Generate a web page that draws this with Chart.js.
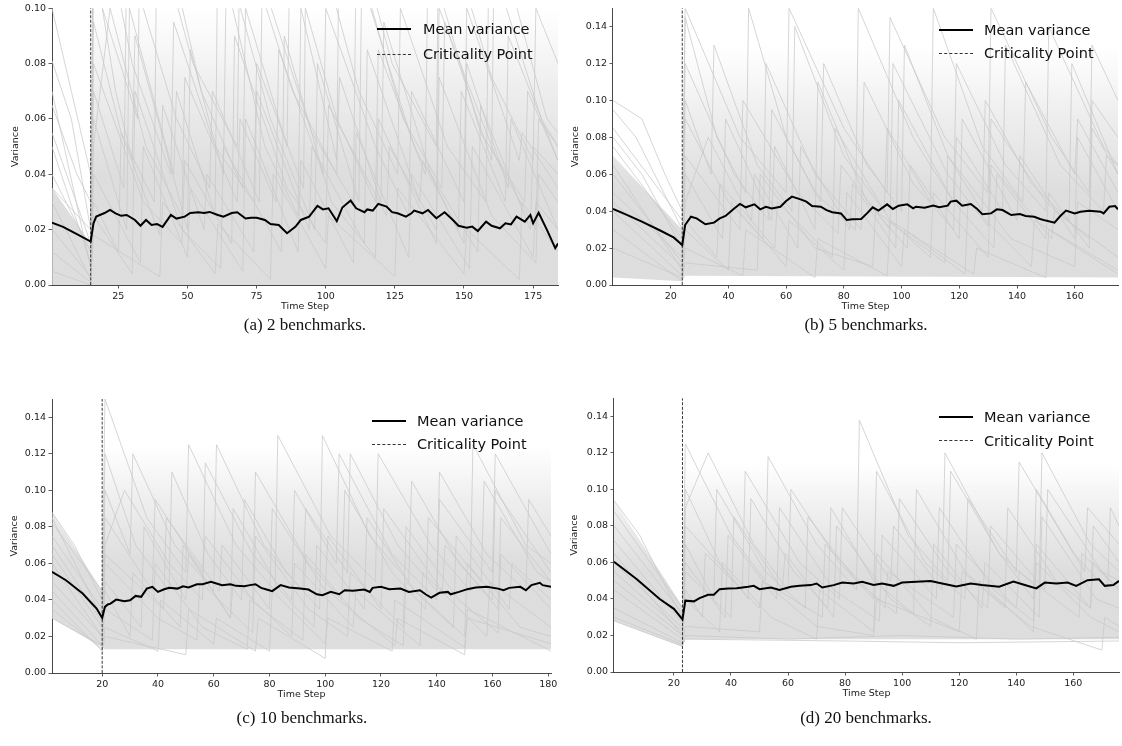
<!DOCTYPE html>
<html>
<head>
<meta charset="utf-8">
<script src="https://cdn.jsdelivr.net/npm/chart.js@4.4.1/dist/chart.umd.min.js"></script>
<style>
  body { margin: 0; background: #fff; }
  #page { position: relative; width: 1122px; height: 746px; overflow: hidden; }
  canvas { position: absolute; }
  .cap { position: absolute; font-family: "Liberation Serif", serif; font-size: 17px; color: #111; transform: translate(-50%, -50%); white-space: nowrap; }
  .leg { position: absolute; font-family: "DejaVu Sans", sans-serif; font-size: 14.5px; color: #111; white-space: nowrap; line-height: 1; transform: translateY(-50%); }
  .legline { position: absolute; height: 0; }
</style>
</head>
<body>
<div id="page">
  <canvas id="chartA"></canvas>
  <canvas id="chartB"></canvas>
  <canvas id="chartC"></canvas>
  <canvas id="chartD"></canvas>
</div>
<script>
// ---- data ----
const captions = ['(a) 2 benchmarks.', '(b) 5 benchmarks.', '(c) 10 benchmarks.', '(d) 20 benchmarks.'];
const legendLabels = ['Mean variance', 'Criticality Point'];

const xTicksA = [25, 50, 75, 100, 125, 150, 175];
const xTicksB = [20, 40, 60, 80, 100, 120, 140, 160];
const xTicksC = [20, 40, 60, 80, 100, 120, 140, 160, 180];
const xTicksD = [20, 40, 60, 80, 100, 120, 140, 160];
const yTicksA = [0, 0.02, 0.04, 0.06, 0.08, 0.10];
const yTicksB = [0, 0.02, 0.04, 0.06, 0.08, 0.10, 0.12, 0.14];

const critA = 15, critB = 24, critC = 20, critD = 23;

const meanA = [[1,0.0225],[5,0.021],[10,0.0184],[15,0.0157],[16,0.0223],[17,0.0247],[20,0.026],[22,0.0271],[24,0.0259],[26,0.025],[28,0.0253],[31,0.0235],[33,0.0214],[35,0.0235],[37,0.0217],[39,0.022],[41,0.021],[44,0.0253],[46,0.024],[49,0.0247],[51,0.026],[54,0.0263],[56,0.026],[58,0.0264],[61,0.0253],[63,0.0247],[66,0.026],[68,0.0263],[71,0.024],[73,0.0243],[75,0.0243],[78,0.0235],[80,0.022],[83,0.0217],[86,0.0187],[89,0.021],[91,0.0235],[94,0.0247],[97,0.0286],[99,0.0273],[101,0.0277],[104,0.0231],[106,0.028],[109,0.0305],[111,0.0277],[114,0.0263],[115,0.0273],[117,0.0269],[119,0.0293],[122,0.0283],[124,0.0263],[126,0.0259],[129,0.0247],[131,0.0259],[132,0.0269],[135,0.0259],[137,0.0271],[140,0.0241],[143,0.0263],[146,0.0235],[148,0.0214],[151,0.0207],[153,0.0211],[155,0.0195],[158,0.0229],[160,0.0214],[163,0.0205],[165,0.0223],[167,0.0219],[169,0.0247],[172,0.0229],[174,0.0253],[175,0.0223],[177,0.0261],[180,0.0199],[183,0.0133],[184,0.015]];
const meanB = [[0,0.0412],[5,0.0379],[10,0.0343],[16,0.0298],[21,0.0258],[24,0.0217],[25,0.0325],[27,0.037],[29,0.0361],[32,0.0329],[35,0.0338],[37,0.0361],[39,0.0374],[42,0.0415],[44,0.0439],[46,0.0421],[49,0.0437],[51,0.041],[53,0.0424],[55,0.0415],[58,0.0424],[60,0.0455],[62,0.0479],[65,0.0464],[67,0.0452],[69,0.0428],[72,0.0424],[74,0.0406],[76,0.0394],[79,0.0388],[81,0.0352],[83,0.0356],[86,0.0358],[88,0.0388],[90,0.0421],[92,0.0403],[95,0.0437],[97,0.0412],[99,0.043],[102,0.0437],[104,0.0415],[105,0.0424],[108,0.0419],[111,0.043],[113,0.0421],[116,0.043],[117,0.0452],[119,0.0457],[121,0.043],[124,0.0439],[126,0.0415],[128,0.0383],[131,0.0388],[133,0.041],[135,0.0406],[138,0.0379],[141,0.0385],[143,0.0374],[146,0.037],[148,0.0358],[150,0.0349],[153,0.0338],[155,0.0374],[157,0.0403],[160,0.0388],[162,0.0397],[165,0.0403],[169,0.0397],[170,0.0388],[172,0.0424],[174,0.0428],[175,0.041]];
const meanC = [[2,0.0554],[7,0.0508],[13,0.0435],[18,0.0353],[20,0.0302],[21,0.0362],[22,0.0375],[23,0.038],[25,0.0402],[28,0.0393],[30,0.0398],[32,0.0422],[34,0.0417],[36,0.0462],[38,0.0472],[40,0.0444],[42,0.0457],[44,0.0466],[47,0.0462],[49,0.0475],[51,0.0468],[54,0.0486],[56,0.0486],[59,0.0499],[61,0.049],[63,0.0481],[66,0.0486],[68,0.0477],[71,0.0475],[73,0.0481],[75,0.0486],[77,0.0466],[79,0.0457],[81,0.0448],[84,0.0481],[87,0.0468],[91,0.0462],[94,0.0457],[97,0.0431],[99,0.0426],[102,0.0444],[105,0.0431],[107,0.0453],[110,0.045],[114,0.0457],[116,0.0444],[117,0.0466],[120,0.0472],[123,0.0459],[127,0.0462],[130,0.0444],[134,0.0453],[136,0.0431],[138,0.0413],[141,0.0439],[144,0.0444],[145,0.0431],[148,0.0444],[151,0.0459],[154,0.0468],[158,0.0472],[162,0.0462],[164,0.0453],[166,0.0466],[170,0.0472],[172,0.0453],[174,0.0481],[177,0.0494],[178,0.0481],[181,0.0472]];
const meanD = [[-1,0.0604],[7,0.0508],[15,0.04],[20,0.0346],[23,0.0288],[24,0.0391],[27,0.0387],[29,0.0405],[32,0.0423],[34,0.0423],[36,0.0454],[39,0.0458],[42,0.0459],[46,0.0467],[48,0.0472],[50,0.0454],[54,0.0463],[57,0.045],[61,0.0467],[64,0.0472],[68,0.0476],[70,0.0485],[72,0.0463],[76,0.0476],[79,0.049],[83,0.0485],[86,0.0494],[90,0.0477],[93,0.0485],[97,0.0472],[100,0.049],[105,0.0494],[110,0.0499],[114,0.0485],[119,0.0468],[124,0.0485],[128,0.0476],[134,0.0467],[139,0.0495],[143,0.0477],[147,0.0458],[150,0.049],[154,0.0485],[158,0.049],[161,0.0472],[165,0.0503],[169,0.0508],[171,0.0472],[174,0.0476],[176,0.0499]];

// spread of the individual runs: lower edge, upper edge, level where the spread stops being dense, level where it fades out
const bandLowA = [[1,0],[184,0]];
const bandTopA = [[1,0.035],[15,0.015],[16,0.1],[184,0.1]];
const denseA = 0.04, fadeA = 0.10;
const bandLowB = [[0,0.004],[24,0.002],[25,0.005],[175,0.004]];
const bandTopB = [[0,0.07],[24,0.03],[25,0.13],[175,0.13]];
const denseB = 0.05, fadeB = 0.13;
const bandLowC = [[2,0.03],[20,0.014],[21,0.013],[181,0.013]];
const bandTopC = [[2,0.088],[20,0.045],[21,0.125],[181,0.125]];
const denseC = 0.06, fadeC = 0.125;
const bandLowD = [[-1,0.028],[23,0.014],[24,0.018],[176,0.018]];
const bandTopD = [[-1,0.094],[23,0.036],[24,0.115],[176,0.115]];
const denseD = 0.055, fadeD = 0.115;

// a sample of individual runs (grey)
const runsA = [
  [[1,0.081],[8,0.06],[15,0.02],[16,0.12],[24,0.07],[30,0.045],[31,0.09],[42,0.05],[50,0.02],[51,0.085],[63,0.04],[64,0.11],[78,0.05],[90,0.025],[91,0.1],[104,0.045],[105,0.075],[120,0.03],[121,0.095],[138,0.04],[150,0.015],[151,0.08],[166,0.035],[167,0.06],[184,0.02]],
  [[1,0.05],[15,0.008],[16,0.06],[28,0.02],[29,0.1],[45,0.04],[46,0.07],[60,0.025],[61,0.13],[80,0.06],[96,0.02],[97,0.08],[112,0.03],[113,0.11],[132,0.05],[148,0.02],[149,0.07],[165,0.03],[166,0.09],[184,0.045]],
  [[1,0.03],[15,0.002],[16,0.04],[33,0.008],[34,0.05],[50,0.01],[51,0.035],[70,0.005],[71,0.06],[90,0.012],[91,0.045],[110,0.008],[111,0.055],[130,0.01],[131,0.04],[152,0.006],[153,0.05],[175,0.01],[176,0.03],[184,0.02]],
  [[1,0.065],[10,0.04],[15,0.03],[16,0.095],[26,0.055],[38,0.03],[39,0.14],[55,0.07],[70,0.035],[71,0.1],[86,0.05],[87,0.12],[104,0.06],[118,0.03],[119,0.085],[136,0.04],[137,0.12],[156,0.055],[172,0.03],[173,0.07],[184,0.045]],
  [[1,0.012],[15,0.001],[16,0.025],[30,0.004],[31,0.07],[48,0.02],[62,0.006],[63,0.05],[84,0.012],[85,0.09],[102,0.03],[118,0.01],[119,0.06],[140,0.015],[141,0.075],[160,0.025],[176,0.008],[177,0.04],[184,0.03]],
  [[1,0.04],[15,0.012],[16,0.15],[30,0.08],[44,0.04],[45,0.095],[60,0.05],[74,0.03],[75,0.08],[92,0.035],[93,0.14],[112,0.07],[126,0.04],[127,0.1],[144,0.05],[158,0.03],[159,0.12],[178,0.06],[184,0.05]],
  [[1,0.02],[15,0.003],[16,0.08],[34,0.03],[48,0.015],[49,0.045],[66,0.015],[67,0.09],[86,0.035],[100,0.015],[101,0.065],[122,0.025],[123,0.05],[140,0.02],[141,0.1],[162,0.045],[176,0.02],[177,0.06],[184,0.05]],
  [[1,0.1],[8,0.07],[15,0.04],[16,0.07],[27,0.035],[28,0.12],[46,0.06],[58,0.035],[59,0.07],[76,0.03],[77,0.11],[95,0.055],[110,0.03],[111,0.12],[128,0.06],[142,0.035],[143,0.095],[160,0.045],[161,0.13],[180,0.06],[184,0.055]],
  [[1,0.005],[15,0],[16,0.018],[40,0.003],[41,0.03],[60,0.004],[61,0.022],[80,0.002],[81,0.04],[100,0.006],[101,0.025],[125,0.003],[126,0.035],[150,0.004],[151,0.02],[170,0.002],[171,0.03],[184,0.012]],
  [[1,0.055],[15,0.015],[16,0.05],[22,0.1],[35,0.05],[48,0.025],[49,0.075],[68,0.03],[69,0.06],[82,0.03],[83,0.085],[99,0.04],[100,0.1],[118,0.05],[130,0.025],[131,0.07],[150,0.03],[151,0.1],[170,0.045],[171,0.055],[184,0.035]],
  [[1,0.07],[15,0.006],[16,0.03],[25,0.012],[26,0.055],[40,0.018],[41,0.065],[56,0.02],[57,0.04],[74,0.012],[75,0.07],[94,0.02],[95,0.05],[114,0.015],[115,0.085],[134,0.03],[135,0.045],[155,0.012],[156,0.065],[174,0.02],[175,0.05],[184,0.04]],
  [[1,0.035],[15,0.02],[16,0.11],[32,0.06],[33,0.15],[52,0.08],[68,0.05],[69,0.13],[88,0.07],[104,0.04],[105,0.15],[124,0.08],[140,0.05],[141,0.14],[160,0.075],[175,0.045],[176,0.1],[184,0.08]]
];
const runsB = [
  [[0,0.095],[8,0.08],[16,0.055],[24,0.03],[25,0.145],[36,0.08],[46,0.05],[47,0.15],[60,0.08],[72,0.045],[73,0.12],[88,0.065],[100,0.04],[101,0.13],[116,0.07],[128,0.04],[129,0.1],[145,0.055],[158,0.035],[159,0.12],[175,0.06]],
  [[0,0.06],[24,0.012],[25,0.06],[38,0.025],[39,0.09],[55,0.035],[56,0.075],[70,0.03],[71,0.11],[88,0.045],[102,0.02],[103,0.065],[120,0.025],[121,0.09],[140,0.035],[141,0.07],[160,0.025],[161,0.08],[175,0.04]],
  [[0,0.04],[24,0.005],[25,0.03],[40,0.008],[41,0.045],[60,0.01],[61,0.035],[80,0.008],[81,0.05],[100,0.01],[101,0.03],[122,0.006],[123,0.045],[145,0.01],[146,0.035],[175,0.008]],
  [[0,0.08],[10,0.06],[24,0.02],[25,0.1],[34,0.06],[35,0.13],[50,0.065],[62,0.04],[63,0.14],[80,0.07],[94,0.04],[95,0.085],[110,0.045],[111,0.15],[128,0.075],[142,0.045],[143,0.11],[160,0.06],[161,0.09],[175,0.05]],
  [[0,0.03],[24,0.002],[25,0.02],[45,0.005],[46,0.03],[70,0.004],[71,0.025],[95,0.005],[96,0.035],[125,0.006],[126,0.02],[150,0.004],[151,0.03],[175,0.006]],
  [[0,0.1],[10,0.09],[18,0.06],[24,0.04],[25,0.12],[42,0.06],[54,0.035],[55,0.095],[70,0.05],[84,0.03],[85,0.15],[104,0.08],[118,0.045],[119,0.12],[136,0.065],[150,0.04],[151,0.14],[170,0.075],[175,0.065]],
  [[0,0.05],[24,0.015],[25,0.045],[33,0.08],[48,0.035],[49,0.06],[64,0.02],[65,0.075],[82,0.03],[83,0.055],[98,0.02],[99,0.1],[118,0.045],[132,0.02],[133,0.06],[150,0.025],[151,0.05],[165,0.02],[166,0.085],[175,0.06]],
  [[0,0.075],[24,0.025],[25,0.09],[40,0.045],[52,0.025],[53,0.12],[70,0.06],[86,0.03],[87,0.11],[104,0.055],[118,0.03],[119,0.08],[135,0.04],[136,0.13],[155,0.065],[170,0.04],[171,0.07],[175,0.065]],
  [[0,0.02],[24,0.004],[25,0.012],[50,0.008],[51,0.06],[70,0.02],[90,0.01],[91,0.04],[115,0.012],[116,0.07],[138,0.025],[160,0.01],[161,0.045],[175,0.03]],
  [[0,0.065],[24,0.008],[25,0.07],[44,0.03],[45,0.1],[64,0.05],[78,0.028],[79,0.065],[96,0.03],[97,0.12],[116,0.06],[130,0.032],[131,0.09],[150,0.045],[165,0.025],[166,0.1],[175,0.08]],
  [[0,0.045],[24,0.01],[25,0.035],[36,0.015],[37,0.055],[56,0.02],[57,0.045],[76,0.015],[77,0.085],[96,0.035],[110,0.015],[111,0.05],[130,0.015],[131,0.065],[152,0.025],[153,0.04],[175,0.015]],
  [[0,0.085],[24,0.035],[25,0.15],[44,0.08],[60,0.05],[61,0.15],[80,0.085],[95,0.05],[96,0.145],[115,0.08],[130,0.05],[131,0.15],[152,0.08],[165,0.05],[166,0.13],[175,0.1]]
];
const runsC = [
  [[2,0.088],[10,0.07],[20,0.04],[21,0.12],[32,0.07],[44,0.045],[45,0.11],[58,0.065],[70,0.04],[71,0.095],[86,0.055],[98,0.035],[99,0.13],[116,0.075],[130,0.05],[131,0.105],[148,0.06],[160,0.04],[161,0.1],[181,0.055]],
  [[2,0.06],[20,0.02],[21,0.05],[34,0.025],[35,0.08],[50,0.04],[51,0.065],[66,0.03],[67,0.09],[84,0.045],[96,0.025],[97,0.07],[114,0.035],[115,0.085],[132,0.045],[146,0.025],[147,0.075],[166,0.035],[167,0.06],[181,0.04]],
  [[2,0.035],[20,0.013],[21,0.025],[40,0.012],[41,0.04],[60,0.016],[61,0.03],[80,0.012],[81,0.045],[100,0.016],[101,0.03],[124,0.012],[125,0.04],[150,0.014],[151,0.03],[181,0.016]],
  [[2,0.075],[20,0.035],[21,0.1],[30,0.065],[31,0.12],[46,0.07],[60,0.045],[61,0.125],[78,0.07],[92,0.045],[93,0.09],[108,0.055],[109,0.12],[126,0.07],[140,0.045],[141,0.11],[158,0.065],[172,0.045],[173,0.095],[181,0.075]],
  [[2,0.045],[20,0.015],[21,0.035],[38,0.018],[39,0.06],[56,0.025],[72,0.013],[73,0.04],[92,0.018],[93,0.065],[112,0.03],[128,0.015],[129,0.05],[150,0.02],[151,0.06],[170,0.025],[181,0.02]],
  [[2,0.082],[20,0.045],[21,0.15],[36,0.085],[50,0.055],[51,0.125],[68,0.07],[82,0.045],[83,0.13],[102,0.075],[118,0.05],[119,0.12],[138,0.07],[152,0.045],[153,0.125],[172,0.07],[181,0.06]],
  [[2,0.03],[20,0.015],[21,0.06],[40,0.03],[54,0.018],[55,0.05],[74,0.022],[75,0.075],[94,0.035],[108,0.02],[109,0.055],[128,0.025],[129,0.08],[148,0.04],[162,0.022],[163,0.065],[181,0.035]],
  [[2,0.07],[20,0.028],[21,0.085],[38,0.045],[39,0.095],[56,0.055],[57,0.075],[74,0.04],[75,0.11],[94,0.06],[106,0.04],[107,0.1],[124,0.055],[136,0.035],[137,0.085],[156,0.05],[157,0.105],[176,0.055],[181,0.05]],
  [[2,0.05],[20,0.02],[21,0.045],[30,0.02],[31,0.055],[48,0.025],[49,0.07],[66,0.03],[67,0.05],[88,0.02],[89,0.06],[110,0.025],[111,0.045],[134,0.015],[135,0.055],[158,0.02],[159,0.05],[181,0.025]],
  [[2,0.085],[20,0.03],[21,0.07],[28,0.1],[44,0.06],[56,0.04],[57,0.115],[74,0.065],[88,0.04],[89,0.1],[104,0.06],[105,0.12],[124,0.065],[140,0.04],[141,0.095],[160,0.055],[161,0.12],[181,0.065]],
  [[2,0.04],[20,0.012],[21,0.02],[50,0.01],[51,0.035],[75,0.012],[76,0.03],[100,0.008],[101,0.045],[125,0.015],[126,0.03],[150,0.01],[151,0.035],[181,0.012]],
  [[2,0.065],[20,0.025],[21,0.065],[42,0.035],[43,0.085],[62,0.045],[63,0.07],[80,0.035],[81,0.09],[100,0.045],[101,0.075],[120,0.035],[121,0.09],[142,0.045],[143,0.07],[162,0.035],[163,0.085],[181,0.05]]
];
const runsD = [
  [[-1,0.094],[8,0.075],[16,0.05],[23,0.03],[24,0.1],[36,0.06],[46,0.04],[47,0.095],[62,0.055],[74,0.035],[75,0.09],[90,0.05],[104,0.032],[105,0.1],[122,0.055],[136,0.035],[137,0.09],[154,0.05],[166,0.035],[167,0.08],[176,0.06]],
  [[-1,0.065],[23,0.02],[24,0.055],[40,0.03],[41,0.085],[58,0.045],[59,0.065],[76,0.03],[77,0.08],[96,0.04],[110,0.025],[111,0.07],[128,0.035],[129,0.06],[148,0.03],[149,0.085],[168,0.04],[176,0.035]],
  [[-1,0.028],[23,0.014],[24,0.02],[60,0.018],[100,0.02],[140,0.018],[176,0.019]],
  [[-1,0.08],[23,0.032],[24,0.09],[32,0.12],[48,0.07],[60,0.045],[61,0.1],[78,0.06],[90,0.04],[91,0.11],[108,0.06],[122,0.04],[123,0.095],[140,0.055],[141,0.115],[160,0.065],[172,0.045],[173,0.09],[176,0.08]],
  [[-1,0.045],[23,0.018],[24,0.04],[36,0.022],[37,0.06],[54,0.03],[70,0.018],[71,0.045],[90,0.022],[91,0.065],[110,0.03],[126,0.018],[127,0.05],[146,0.022],[147,0.06],[166,0.03],[176,0.022]],
  [[-1,0.088],[23,0.035],[24,0.125],[40,0.075],[52,0.05],[53,0.118],[70,0.07],[84,0.045],[85,0.138],[102,0.075],[116,0.05],[117,0.11],[134,0.065],[148,0.045],[149,0.12],[166,0.07],[176,0.055]],
  [[-1,0.035],[23,0.016],[24,0.025],[50,0.022],[51,0.05],[70,0.025],[90,0.02],[91,0.04],[120,0.022],[121,0.055],[145,0.025],[170,0.012],[171,0.03],[176,0.025]],
  [[-1,0.072],[23,0.027],[24,0.07],[34,0.04],[35,0.1],[52,0.055],[66,0.035],[67,0.085],[84,0.05],[98,0.032],[99,0.095],[116,0.055],[130,0.035],[131,0.08],[150,0.045],[151,0.1],[170,0.055],[176,0.05]],
  [[-1,0.055],[23,0.022],[24,0.045],[30,0.03],[31,0.065],[50,0.035],[51,0.05],[72,0.03],[73,0.07],[94,0.035],[95,0.055],[118,0.03],[119,0.07],[140,0.035],[141,0.055],[162,0.03],[163,0.065],[176,0.045]],
  [[-1,0.06],[23,0.024],[24,0.08],[44,0.045],[45,0.11],[64,0.06],[78,0.04],[79,0.09],[96,0.05],[97,0.08],[114,0.045],[115,0.12],[134,0.065],[146,0.04],[147,0.1],[164,0.055],[165,0.09],[176,0.07]],
  [[-1,0.03],[23,0.015],[24,0.018],[80,0.017],[120,0.016],[176,0.017]],
  [[-1,0.05],[23,0.02],[24,0.06],[38,0.03],[39,0.075],[56,0.04],[57,0.09],[76,0.045],[92,0.028],[93,0.075],[112,0.04],[113,0.09],[132,0.045],[146,0.028],[147,0.07],[166,0.035],[167,0.06],[176,0.045]]
];

// ---- layout (page pixels) ----
Chart.defaults.font.family = "'DejaVu Sans', sans-serif";
const FS = 9.5, HALF = FS * 1.2 / 2;
const W = 561, H = 330;

function makePanel(id, pos, area, yTitleX, xr, ymax, xTicks, yTicks, mean, crit, runs, low, top, dense, fade, legend, caption, capPos) {
  const cv = document.getElementById(id);
  cv.width = W; cv.height = H;
  cv.style.left = pos[0] + 'px'; cv.style.top = pos[1] + 'px';
  const yW = area.l - yTitleX + HALF;
  const xH = 22 + HALF;

  // spread shading: solid below the dense level, fading out towards the top level
  const spreadFill = ctx => {
    const chart = ctx.chart;
    if (!chart.chartArea) return 'rgba(212,212,212,0.6)';
    const ys = chart.scales.y;
    const y0 = ys.getPixelForValue(dense), y1 = ys.getPixelForValue(fade);
    const g = chart.ctx.createLinearGradient(0, y0, 0, y1);
    g.addColorStop(0, 'rgba(212,212,212,0.78)');
    g.addColorStop(0.55, 'rgba(214,214,214,0.4)');
    g.addColorStop(1, 'rgba(218,218,218,0)');
    return g;
  };

  const datasets = [
    { data: mean, borderColor: '#000', borderWidth: 2, order: 0 },
    { data: [[crit, 0], [crit, ymax]], borderColor: '#222', borderWidth: 0.9, borderDash: [3, 1.6], order: 1 }
  ];
  runs.forEach(r => datasets.push({ data: r, borderColor: 'rgba(200,200,200,0.75)', borderWidth: 1, order: 2 }));
  datasets.push({ data: top, borderWidth: 0, fill: '+1', backgroundColor: spreadFill, order: 4 });
  datasets.push({ data: low, borderWidth: 0, fill: false, order: 3 });

  new Chart(cv, {
    type: 'line',
    data: { datasets: datasets },
    options: {
      responsive: false, animation: false, devicePixelRatio: 1,
      layout: { padding: { left: yTitleX - HALF - pos[0], top: area.t - pos[1], right: pos[0] + W - area.r, bottom: pos[1] + H - area.b - xH } },
      elements: { point: { radius: 0 }, line: { tension: 0 } },
      plugins: { legend: { display: false }, tooltip: { enabled: false } },
      scales: {
        x: {
          type: 'linear', min: xr[0], max: xr[1],
          afterBuildTicks: s => { s.ticks = xTicks.map(v => ({ value: v })); },
          afterFit: s => { s.height = xH; },
          grid: { drawOnChartArea: false, tickLength: 3.5, tickColor: '#333', tickWidth: 0.8 },
          border: { color: '#333', width: 0.9 },
          ticks: { font: { size: FS }, color: '#222', padding: 2.5, maxRotation: 0, autoSkip: false, callback: v => String(v) },
          title: { display: true, text: 'Time Step', font: { size: FS }, color: '#222', padding: 0 }
        },
        y: {
          min: 0, max: ymax,
          afterBuildTicks: s => { s.ticks = yTicks.map(v => ({ value: v })); },
          afterFit: s => { s.width = yW; },
          grid: { drawOnChartArea: false, tickLength: 3.5, tickColor: '#333', tickWidth: 0.8 },
          border: { color: '#333', width: 0.9 },
          ticks: { font: { size: FS }, color: '#222', padding: 2.5, callback: v => v.toFixed(2) },
          title: { display: true, text: 'Variance', font: { size: FS }, color: '#222', padding: 0 }
        }
      }
    }
  });

  const page = document.getElementById('page');
  const styles = ['border-top:2px solid #000;', 'border-top:1px dashed #333;'];
  [legend.y1, legend.y2].forEach((y, i) => {
    const ln = document.createElement('div');
    ln.className = 'legline';
    ln.style.cssText = `left:${legend.x0}px;top:${y - (i ? 0.5 : 1)}px;width:${legend.x1 - legend.x0}px;` + styles[i];
    page.appendChild(ln);
    const t = document.createElement('div');
    t.className = 'leg';
    t.style.left = legend.tx + 'px'; t.style.top = y + 'px';
    t.textContent = legendLabels[i];
    page.appendChild(t);
  });
  const c = document.createElement('div');
  c.className = 'cap';
  c.style.left = capPos[0] + 'px'; c.style.top = capPos[1] + 'px';
  c.textContent = caption;
  page.appendChild(c);
}

makePanel('chartA', [0, 0], { l: 52, t: 7, r: 558, b: 285 }, 15.7, [1, 184], 0.10, xTicksA, yTicksA, meanA, critA, runsA, bandLowA, bandTopA, denseA, fadeA,
  { x0: 377, x1: 411, y1: 29.3, y2: 54.3, tx: 423 }, captions[0], [305, 325]);
makePanel('chartB', [561, 0], { l: 613, t: 8, r: 1118, b: 285 }, 575.7, [0, 175], 0.15, xTicksB, yTicksB, meanB, critB, runsB, bandLowB, bandTopB, denseB, fadeB,
  { x0: 939, x1: 973, y1: 30, y2: 53.3, tx: 984 }, captions[1], [866, 325]);
makePanel('chartC', [0, 390], { l: 52, t: 399, r: 551, b: 673 }, 15, [2, 181], 0.15, xTicksC, yTicksB, meanC, critC, runsC, bandLowC, bandTopC, denseC, fadeC,
  { x0: 372, x1: 406, y1: 420.7, y2: 444, tx: 417 }, captions[2], [302, 718]);
makePanel('chartD', [561, 390], { l: 614, t: 395, r: 1119, b: 672 }, 575, [-1, 176], 0.15, xTicksD, yTicksB, meanD, critD, runsD, bandLowD, bandTopD, denseD, fadeD,
  { x0: 939, x1: 973, y1: 416.7, y2: 440.7, tx: 984 }, captions[3], [866, 718]);
</script>
</body>
</html>
